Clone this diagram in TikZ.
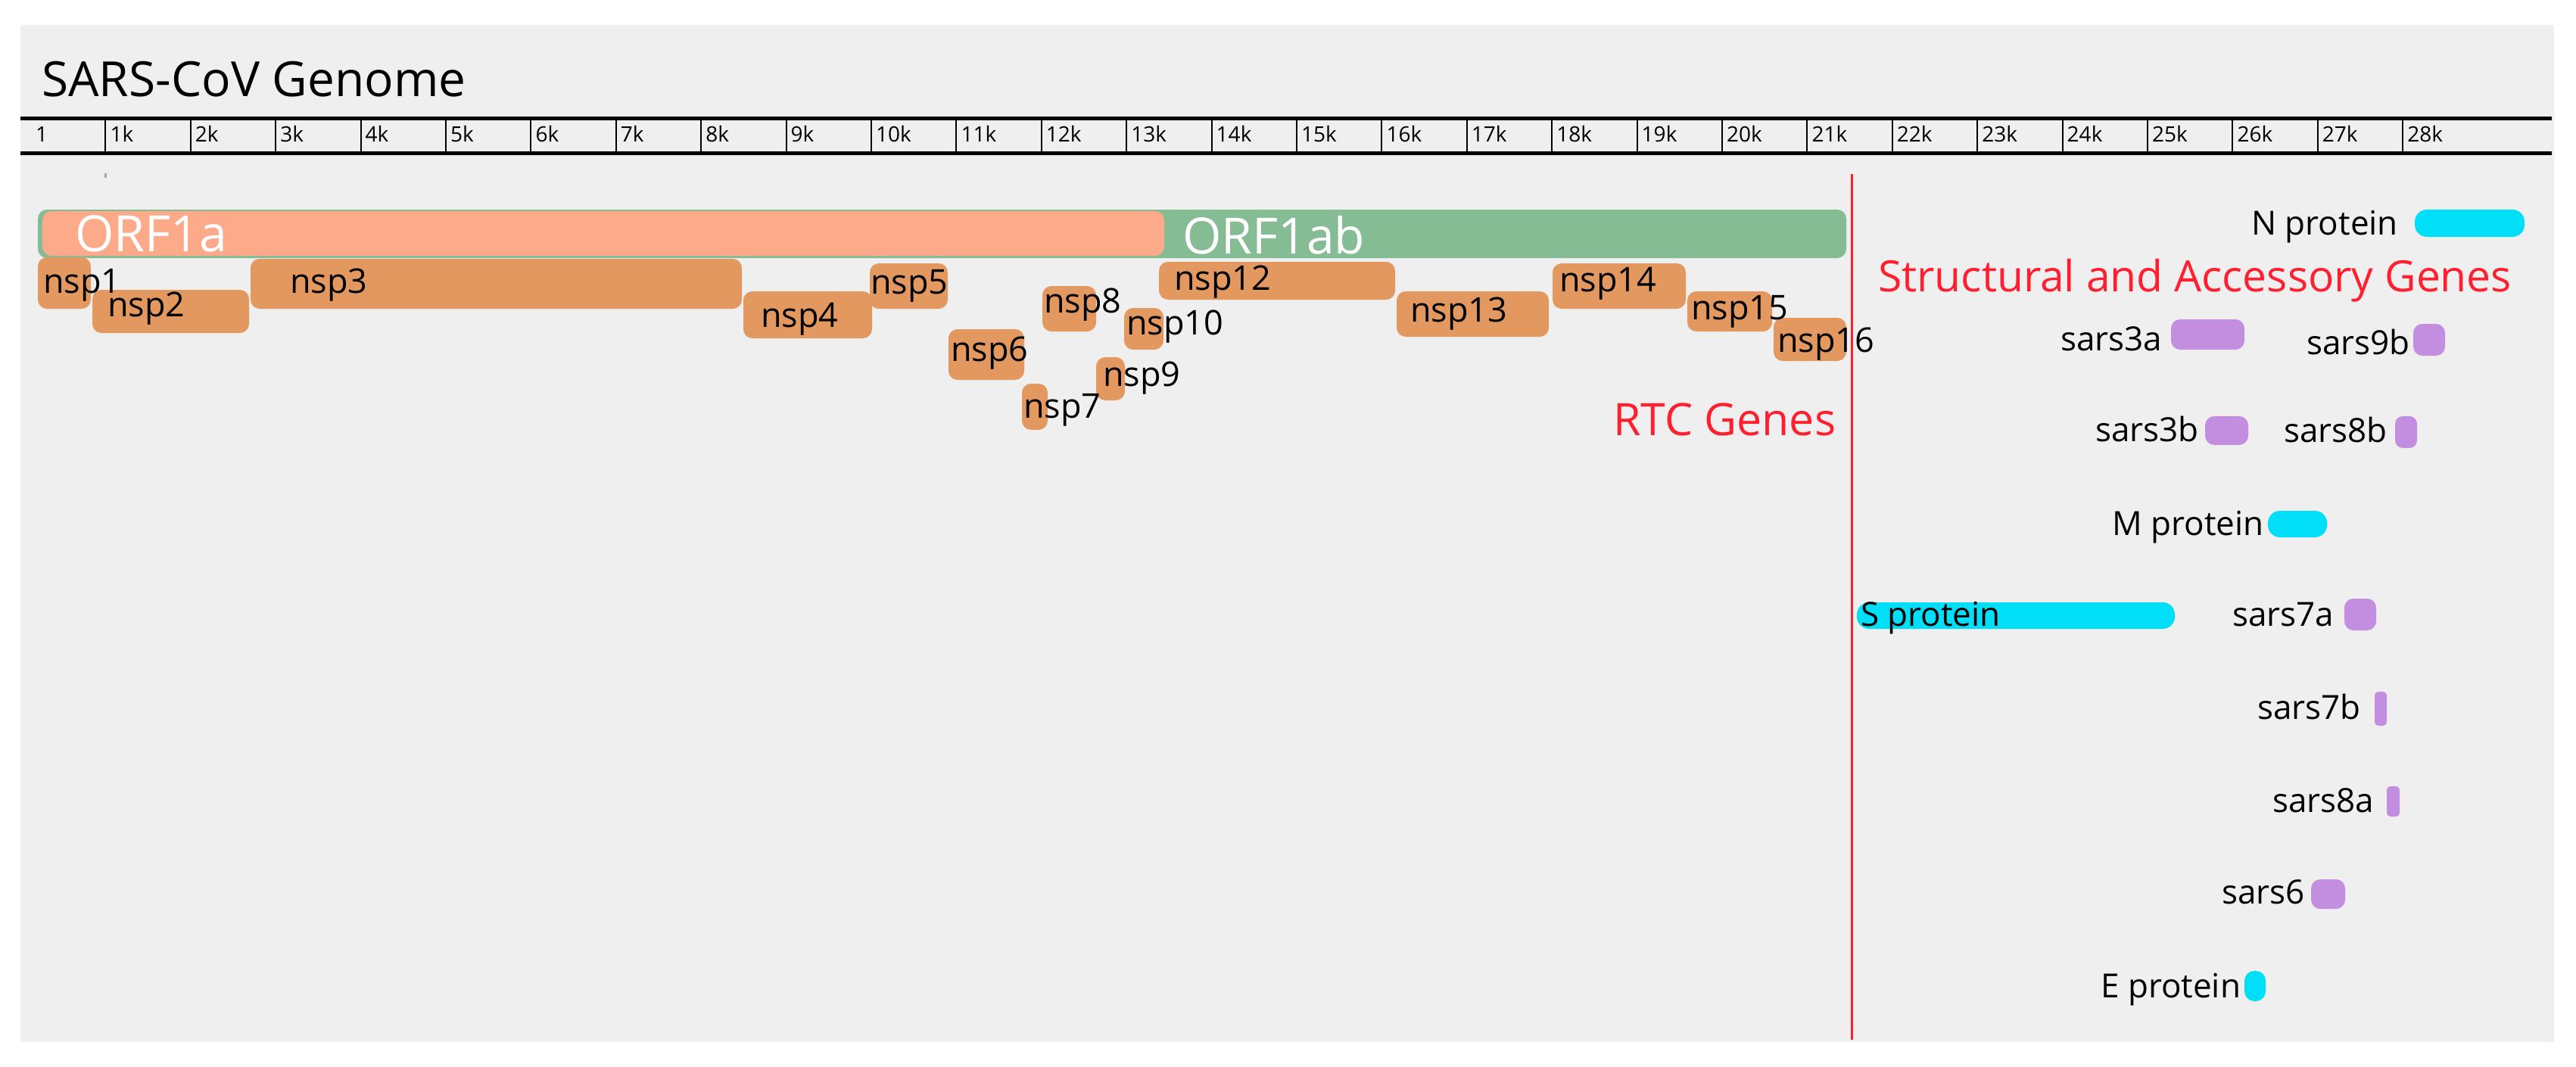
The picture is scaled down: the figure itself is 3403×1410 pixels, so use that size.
\documentclass[tikz,border=0pt]{standalone}
\usepackage{fontspec}
\setmainfont{Open Sans}
\usetikzlibrary{fit}
\definecolor{panelbg}{HTML}{EFEFEF}
\definecolor{orfgreen}{HTML}{86BC93}
\definecolor{orfpink}{HTML}{FDAA8A}
\definecolor{nsporange}{HTML}{E2985F}
\definecolor{genecyan}{HTML}{00DFF7}
\definecolor{genepurple}{HTML}{C38EE0}
\definecolor{labelred}{HTML}{FF1F2E}
\begin{document}
\begin{tikzpicture}[x=1pt,y=-1pt,
  box/.style={inner sep=0pt, outer sep=0pt, draw=none},
  nspbox/.style={box, fill=nsporange, rounded corners=12pt},
  cyanbox/.style={box, fill=genecyan, rounded corners=16pt},
  purplebox/.style={box, fill=genepurple, rounded corners=12pt},
  lbl/.style={inner sep=0pt, anchor=base west, font=\fontsize{45}{54}\selectfont, text=black},
  glbl/.style={lbl, font=\fontsize{44}{52}\selectfont},
  ticklbl/.style={inner sep=0pt, anchor=base west, font=\fontsize{28}{32}\selectfont},
  orflbl/.style={inner sep=0pt, anchor=base west, font=\fontsize{66}{74}\selectfont, text=white},
  redlbl/.style={inner sep=0pt, anchor=base west, text=labelred},
  rulerline/.style={line width=5pt, black},
  tickline/.style={line width=2pt, black}
]
\useasboundingbox (0,0) rectangle (3403,1410);
\fill[white] (0,0) rectangle (3403,1410);
\fill[panelbg] (27,33) rectangle (3374,1377);

% title
\node[inner sep=0pt, anchor=base west, font=\fontsize{64}{72}\selectfont] (title) at (55,128) {SARS-CoV Genome};

% ruler
\draw[rulerline] (27,157) -- (3371,157);
\draw[rulerline] (27,202) -- (3371,202);
\node[ticklbl] (tl0) at (47,187) {1};
\foreach \k in {1,...,28} {
  \pgfmathsetmacro\xx{139.3+(\k-1)*112.4}
  \draw[tickline] (\xx,157) -- (\xx,202);
  \node[ticklbl] (tl\k) at (\xx+6,187) {\k k};
}

% tiny mark
\fill[gray!70] (138,229) rectangle (141,235);

% faint ghost bar
\draw[white, line width=1pt, opacity=0.25, rounded corners=30pt] (54,627) rectangle (1539,707);

% ORF bars
\node[box, fill=orfgreen, rounded corners=12pt, fit={(50,277) (2439,341)}] (orf1ab) {};
\node[box, fill=orfpink, rounded corners=12pt, fit={(56,279) (1538,338)}] (orf1a) {};
\node[orflbl] (orf1alab) at (99,332) {ORF1a};
\node[orflbl] (orf1ablab) at (1562,335) {ORF1ab};

% nsp boxes
\node[nspbox, fit={(50,340) (120,408)}] (b1) {};
\node[nspbox, fit={(122,383) (329,440)}] (b2) {};
\node[nspbox, fit={(331,342) (980,408)}] (b3) {};
\node[nspbox, fit={(982,385) (1152,447)}] (b4) {};
\node[nspbox, fit={(1149,348) (1252,408)}] (b5) {};
\node[nspbox, fit={(1253,435) (1353,502)}] (b6) {};
\node[nspbox, fit={(1350,507) (1384,568)}] (b7) {};
\node[nspbox, fit={(1377,378) (1448,438)}] (b8) {};
\node[nspbox, fit={(1448,472) (1486,529)}] (b9) {};
\node[nspbox, fit={(1485,407) (1537,462)}] (b10) {};
\node[nspbox, fit={(1531,346) (1843,396)}] (b12) {};
\node[nspbox, fit={(1845,385) (2046,445)}] (b13) {};
\node[nspbox, fit={(2051,348) (2227,408)}] (b14) {};
\node[nspbox, fit={(2229,385) (2341,438)}] (b15) {};
\node[nspbox, fit={(2343,420) (2439,477)}] (b16) {};

\node[lbl] (l1) at (57,387) {nsp1};
\node[lbl] (l2) at (142,418) {nsp2};
\node[lbl] (l3) at (383,387) {nsp3};
\node[lbl] (l4) at (1005,432) {nsp4};
\node[lbl] (l5) at (1150,388) {nsp5};
\node[lbl] (l6) at (1256,477) {nsp6};
\node[lbl] (l7) at (1352,552) {nsp7};
\node[lbl] (l8) at (1379,413) {nsp8};
\node[lbl] (l9) at (1457,510) {nsp9};
\node[lbl] (l10) at (1488,442) {nsp10};
\node[lbl] (l12) at (1551,383) {nsp12};
\node[lbl] (l13) at (1863,425) {nsp13};
\node[lbl] (l14) at (2060,385) {nsp14};
\node[lbl] (l15) at (2234,422) {nsp15};
\node[lbl] (l16) at (2348,465) {nsp16};

% divider
\draw[labelred, line width=3pt] (2446,230) -- (2446,1374);
\node[redlbl, font=\fontsize{59}{66}\selectfont] (rtc) at (2131,575) {RTC Genes};
\node[redlbl, font=\fontsize{57}{64}\selectfont] (sag) at (2481,385) {Structural and Accessory Genes};

% structural and accessory genes
\node[cyanbox, fit={(3190,277) (3335,313)}] (gN) {};
\node[glbl] (tN) at (2974,310) {N protein};
\node[purplebox, fit={(2868,422) (2965,462)}] (g3a) {};
\node[glbl] (t3a) at (2722,463) {sars3a};
\node[purplebox, fit={(3188,428) (3230,470)}] (g9b) {};
\node[glbl] (t9b) at (3047,468) {sars9b};
\node[purplebox, fit={(2913,550) (2970,588)}] (g3b) {};
\node[glbl] (t3b) at (2768,583) {sars3b};
\node[purplebox, rounded corners=10pt, fit={(3164,550) (3193,592)}] (g8b) {};
\node[glbl] (t8b) at (3017,584) {sars8b};
\node[cyanbox, fit={(2996,675) (3074,710)}] (gM) {};
\node[glbl] (tM) at (2790,707) {M protein};
\node[cyanbox, fit={(2453,796) (2873,831)}] (gS) {};
\node[glbl] (tS) at (2458,827) {S protein};
\node[purplebox, fit={(3097,791) (3139,833)}] (g7a) {};
\node[glbl] (t7a) at (2949,827) {sars7a};
\node[purplebox, rounded corners=5pt, fit={(3137,914) (3153,959)}] (g7b) {};
\node[glbl] (t7b) at (2982,950) {sars7b};
\node[purplebox, rounded corners=5pt, fit={(3153,1039) (3170,1079)}] (g8a) {};
\node[glbl] (t8a) at (3002,1073) {sars8a};
\node[purplebox, fit={(3053,1162) (3098,1201)}] (g6) {};
\node[glbl] (t6) at (2935,1194) {sars6};
\node[cyanbox, rounded corners=13pt, fit={(2965,1283) (2993,1323)}] (gE) {};
\node[glbl] (tE) at (2775,1318) {E protein};
\end{tikzpicture}
\end{document}
